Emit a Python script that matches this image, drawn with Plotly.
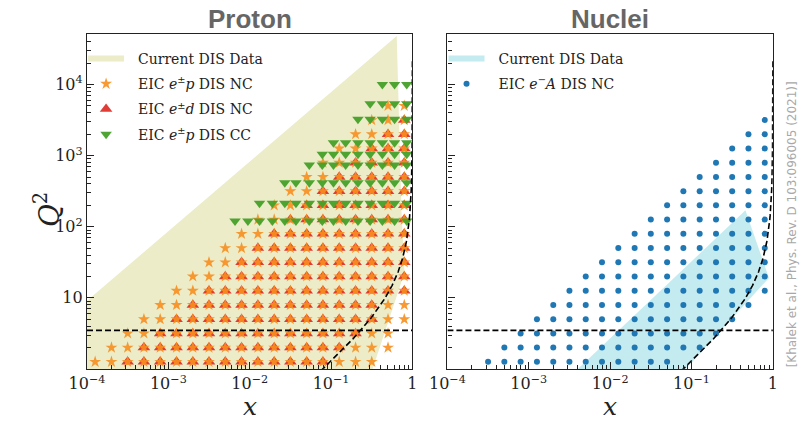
import numpy as np
import plotly.graph_objects as go

# ---- kinematic bins of the EIC neutral-current pseudodata --------------------
X_BINS = [1.26e-4, 2.00e-4, 3.16e-4, 5.01e-4, 7.94e-4,
          1.26e-3, 2.00e-3, 3.16e-3, 5.01e-3, 7.94e-3,
          1.26e-2, 2.00e-2, 3.16e-2, 5.01e-2, 7.94e-2,
          0.126, 0.200, 0.316, 0.501, 0.794]
Q2_BINS = [1.26, 2.00, 3.16, 5.01, 7.94, 12.6, 20.0, 31.6, 50.1, 79.4,
           126, 200, 316, 501, 794, 1260, 2000, 3160, 5010]

# populated x bins in each Q^2 row (first / last index into X_BINS)
EP_NC_FIRST = [0, 1, 2, 3, 4, 5, 6, 7, 8, 9, 10, 11, 12, 13, 14, 15, 16, 17, 18]
EP_NC_LAST = [17, 18, 18, 19, 19, 19, 19, 19, 19, 19, 19, 19, 19, 19, 19, 19, 19, 19, 19]
ED_NC_FIRST = [2, 3, 4, 5, 6, 7, 8, 9, 10, 11, 12, 13, 14, 15, 16, 17, 18, 19]
ED_NC_LAST = [14, 15, 16, 17, 17, 19, 19, 19, 19, 19, 19, 19, 19, 19, 19, 19, 19, 19]
EA_NC_FIRST = [2, 3, 4, 5, 6, 7, 8, 9, 10, 11, 12, 13, 14, 15, 16, 17, 18, 19]
EA_NC_LAST = [13, 15, 16, 17, 18, 19, 19, 19, 19, 19, 19, 19, 19, 19, 19, 19, 19, 19]

# charged-current pseudodata bins
CC_X_BINS = [6.6e-3, 9.5e-3, 1.32e-2, 1.9e-2, 2.7e-2, 3.7e-2, 5.4e-2, 7.8e-2,
             0.107, 0.151, 0.214, 0.302, 0.427, 0.603, 0.851]
CC_Q2_BINS = [120, 214, 417, 741, 1047, 1514, 3236, 5370, 10000]
CC_FIRST = [0, 2, 4, 6, 7, 8, 10, 11, 12]

# outlines of the regions covered by existing DIS measurements
PROTON_DIS_X = [1e-4, 1e-4, 0.641, 0.734, 0.798, 0.324]
PROTON_DIS_Q2 = [1.0, 9.1, 4.8e4, 167, 22.6, 1.0]
NUCLEI_DIS_X = [0.004, 0.46, 0.895, 0.085]
NUCLEI_DIS_Q2 = [1.0, 170, 19.1, 1.0]

# kinematic cuts
Q2_CUT = 3.49      # GeV^2
W2_CUT = 12.5      # GeV^2
M_PROTON = 0.938   # GeV


def grid_points(first, last, xs, q2s):
    px, pq = [], []
    for j, (a, b) in enumerate(zip(first, last)):
        for k in range(a, b + 1):
            px.append(xs[k])
            pq.append(q2s[j])
    return px, pq


ep_x, ep_q = grid_points(EP_NC_FIRST, EP_NC_LAST, X_BINS, Q2_BINS)
ed_x, ed_q = grid_points(ED_NC_FIRST, ED_NC_LAST, X_BINS, Q2_BINS)
ea_x, ea_q = grid_points(EA_NC_FIRST, EA_NC_LAST, X_BINS, Q2_BINS)
cc_x, cc_q = grid_points(CC_FIRST, [len(CC_X_BINS) - 1] * len(CC_FIRST),
                         CC_X_BINS, CC_Q2_BINS)

# W^2 cut: Q^2 = (W^2 - M^2) x / (1 - x)
w_x = np.logspace(np.log10(0.0745), np.log10(0.9995), 300)
w_q = (W2_CUT - M_PROTON ** 2) * w_x / (1 - w_x)

W, H = 808, 422
L_DOM = [71 / W, 406 / W]
R_DOM = [442 / W, 777 / W]
Y_DOM = [1 - 369 / H, 1 - 34 / H]

SERIF = "DejaVu Serif"
OLIVE = "rgb(236,236,200)"
CYAN = "rgb(196,236,240)"
PAD = "&nbsp;&nbsp;"   # gap between legend key and its label

fig = go.Figure()

# ---- proton panel --------------------------------------------------------------
fig.add_trace(go.Scatter(
    x=PROTON_DIS_X, y=PROTON_DIS_Q2, fill="toself", mode="none",
    fillcolor=OLIVE, name=PAD + "Current DIS Data", legend="legend",
    legendgroup="p0", legendrank=1, hoverinfo="skip", xaxis="x", yaxis="y"))
fig.add_trace(go.Scatter(
    x=ed_x, y=ed_q, mode="markers",
    name=PAD + "EIC <i>e</i><sup>±</sup><i>d</i> DIS NC",
    marker=dict(symbol="triangle-up", size=11, color="rgba(222,45,38,0.92)",
                line=dict(width=0)),
    legend="legend", legendgroup="p2", legendrank=3, xaxis="x", yaxis="y"))
fig.add_trace(go.Scatter(
    x=ep_x, y=ep_q, mode="markers",
    name=PAD + "EIC <i>e</i><sup>±</sup><i>p</i> DIS NC",
    marker=dict(symbol="star", size=9, color="rgba(247,142,30,0.9)",
                line=dict(width=0)),
    legend="legend", legendgroup="p1", legendrank=2, xaxis="x", yaxis="y"))
fig.add_trace(go.Scatter(
    x=cc_x, y=cc_q, mode="markers",
    name=PAD + "EIC <i>e</i><sup>±</sup><i>p</i> DIS CC",
    marker=dict(symbol="triangle-down", size=10, color="rgba(70,160,40,0.95)",
                line=dict(width=0)),
    legend="legend", legendgroup="p3", legendrank=4, xaxis="x", yaxis="y"))

# ---- nuclear panel -------------------------------------------------------------
fig.add_trace(go.Scatter(
    x=NUCLEI_DIS_X, y=NUCLEI_DIS_Q2, fill="toself", mode="none",
    fillcolor=CYAN, name=PAD + "Current DIS Data", legend="legend2",
    legendgroup="n0", legendrank=1, hoverinfo="skip", xaxis="x2", yaxis="y2"))
fig.add_trace(go.Scatter(
    x=ea_x, y=ea_q, mode="markers",
    name=PAD + "EIC <i>e</i><sup>−</sup><i>A</i> DIS NC",
    marker=dict(symbol="circle", size=6, color="#1f77b4", line=dict(width=0)),
    legend="legend2", legendgroup="n1", legendrank=2, xaxis="x2", yaxis="y2"))

# ---- cut lines in both panels ---------------------------------------------------
for xa, ya in (("x", "y"), ("x2", "y2")):
    fig.add_trace(go.Scatter(
        x=[1e-4, 1.0], y=[Q2_CUT, Q2_CUT], mode="lines", showlegend=False,
        line=dict(color="black", width=1.6, dash="6px,3px"),
        hoverinfo="skip", xaxis=xa, yaxis=ya))
    fig.add_trace(go.Scatter(
        x=w_x, y=w_q, mode="lines", showlegend=False,
        line=dict(color="black", width=1.6, dash="6px,3px"),
        hoverinfo="skip", xaxis=xa, yaxis=ya))

# ---- axes -----------------------------------------------------------------------
x_major = [1e-4, 1e-3, 1e-2, 1e-1, 1]
x_text = ["10<sup>−4</sup>", "10<sup>−3</sup>", "10<sup>−2</sup>", "10<sup>−1</sup>", "1"]
y_major = [10, 100, 1000, 10000]
y_text = ["10", "10<sup>2</sup>", "10<sup>3</sup>", "10<sup>4</sup>"]
minor_x = [m * 10.0 ** d for d in range(-4, 0) for m in range(2, 10)]
minor_y = [m * 10.0 ** d for d in range(0, 5) for m in range(2, 10)]

tick_font = dict(family=SERIF, size=16, color="#222")
common = dict(type="log", showgrid=False, zeroline=False, showline=True,
              linecolor="#222", linewidth=1.3, mirror=True,
              ticks="inside", ticklen=7, tickwidth=1, tickcolor="#222",
              tickfont=tick_font)


def xaxis(dom):
    return dict(common, domain=dom, range=[-4, 0], tickmode="array",
                tickvals=x_major, ticktext=x_text,
                minor=dict(tickmode="array", tickvals=minor_x, ticks="inside",
                           ticklen=4, tickwidth=1, tickcolor="#222", showgrid=False))


def yaxis(labels):
    return dict(common, domain=Y_DOM, range=[0, 4.71], tickmode="array",
                tickvals=y_major, ticktext=y_text, showticklabels=labels,
                minor=dict(tickmode="array", tickvals=minor_y, ticks="inside",
                           ticklen=4, tickwidth=1, tickcolor="#222", showgrid=False))


legend_style = dict(xanchor="left", yanchor="top", bgcolor="rgba(0,0,0,0)",
                    font=dict(family=SERIF, size=14, color="#222"),
                    tracegroupgap=4, itemwidth=36)

fig.update_layout(
    width=W, height=H, margin=dict(l=0, r=0, t=0, b=0),
    paper_bgcolor="white", plot_bgcolor="white",
    xaxis=dict(xaxis(L_DOM), anchor="y"),
    yaxis=dict(yaxis(True), anchor="x"),
    xaxis2=dict(xaxis(R_DOM), anchor="y2"),
    yaxis2=dict(yaxis(False), anchor="x2"),
    legend=dict(legend_style, x=67 / W, y=1 - 43 / H),
    legend2=dict(legend_style, x=438 / W, y=1 - 43 / H),
    showlegend=True,
)


def label(text, px, py, size, family, color="#222", angle=0):
    return dict(text=text, x=px / W, y=1 - py / H, xref="paper", yref="paper",
                xanchor="center", yanchor="middle", showarrow=False,
                textangle=angle, font=dict(family=family, size=size, color=color))


annotations = [
    label("<b>Proton</b>", 238.5, 19, 26, "Liberation Sans", "#666"),
    label("<b>Nuclei</b>", 609.5, 19, 26, "Liberation Sans", "#666"),
    label("<i>x</i>", 238.5, 406, 25, SERIF),
    label("<i>x</i>", 609.5, 406, 25, SERIF),
    label("<i>Q</i><sup>2</sup>", 31, 210, 28, SERIF, angle=-90),
    label("[Khalek et al., Phys. Rev. D 103:096005 (2021)]", 797, 224, 12,
          "DejaVu Sans", "#a8a8a8", angle=-90),
]
fig.update_layout(annotations=annotations)

fig.write_html("out.html")
